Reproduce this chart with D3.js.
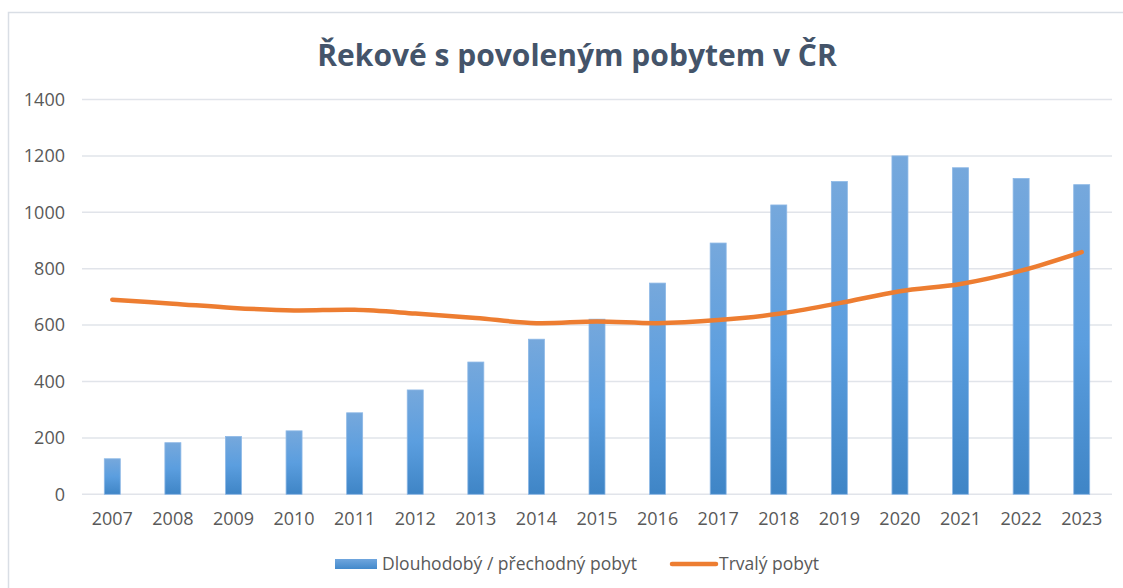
<!DOCTYPE html>
<html><head><meta charset="utf-8">
<script src="https://cdn.jsdelivr.net/npm/d3@7"></script>
<style>body{margin:0;background:#fff;} svg{display:block;font-family:"Open Sans",sans-serif;}</style>
</head><body>
<svg id="c" width="1123" height="588"></svg>
<script>
const years = ["2007","2008","2009","2010","2011","2012","2013","2014","2015","2016","2017","2018","2019","2020","2021","2022","2023"];
const longTerm = [126,183,205,225,289,370,469,550,621,749,891,1026,1109,1200,1158,1120,1098];
const permanent = [690,676,661,652,654,641,625,607,613,607,618,640,678,720,746,793,859];
const yTicks = [0,200,400,600,800,1000,1200,1400];
const seriesNames = ["Dlouhodobý / přechodný pobyt","Trvalý pobyt"];
const title = "Řekové s povoleným pobytem v ČR";

const svg = d3.select("#c");
const m = {left:82, right:1112, top:99.5, bottom:494.3};

svg.append("rect").attr("x",8.5).attr("y",12.5).attr("width",1300).attr("height",700)
  .attr("fill","#fff").attr("stroke","#D9DEE5").attr("stroke-width",1.5);

const defs = svg.append("defs");
const g = defs.append("linearGradient").attr("id","bg").attr("x1",0).attr("y1",0).attr("x2",0).attr("y2",1);
g.append("stop").attr("offset","0%").attr("stop-color","#76A8DC");
g.append("stop").attr("offset","50%").attr("stop-color","#5B9EDF");
g.append("stop").attr("offset","100%").attr("stop-color","#3F85C6");
const gl = defs.append("linearGradient").attr("id","lg").attr("x1",0).attr("y1",0).attr("x2",0).attr("y2",1);
gl.append("stop").attr("offset","0%").attr("stop-color","#6FA6DE");
gl.append("stop").attr("offset","100%").attr("stop-color","#4289CB");

const x = d3.scaleBand().domain(years).range([m.left,m.right]).paddingInner(0.736).paddingOuter(0.368);
const xc = d3.scaleBand().domain(years).range([m.left,m.right]);
const y = d3.scaleLinear().domain([0,1400]).range([m.bottom,m.top]);

// gridlines
svg.append("g").selectAll("line").data(yTicks).join("line")
  .attr("x1",m.left).attr("x2",m.right).attr("y1",d=>y(d)).attr("y2",d=>y(d))
  .attr("stroke","#E1E4EA").attr("stroke-width",1.5);

// y axis labels
const ya = svg.append("g").attr("transform",`translate(${m.left},0)`)
  .call(d3.axisLeft(y).tickValues(yTicks).tickSize(0).tickPadding(17).tickFormat(d3.format("d")));
ya.select(".domain").remove();
ya.selectAll("text").attr("fill","#595959").style("font-size","18px").style("font-family","Open Sans");

// x axis labels
const xa = svg.append("g").attr("transform",`translate(0,${m.bottom})`)
  .call(d3.axisBottom(xc).tickSize(0).tickPadding(18));
xa.select(".domain").remove();
xa.selectAll("text").attr("fill","#595959").style("font-size","18px").style("font-family","Open Sans");

// bars
svg.append("g").selectAll("rect").data(years).join("rect")
  .attr("x",(d)=>x(d)).attr("width",x.bandwidth())
  .attr("y",(d,i)=>y(longTerm[i])).attr("height",(d,i)=>y(0)-y(longTerm[i]))
  .attr("fill","url(#bg)").attr("stroke","#8DB8E6").attr("stroke-width",0.8);

// line
const line = d3.line().x((d,i)=>xc(years[i])+xc.bandwidth()/2).y(d=>y(d)).curve(d3.curveCatmullRom.alpha(0.5));
svg.append("path").datum(permanent).attr("d",line).attr("fill","none")
  .attr("stroke","#ED7D31").attr("stroke-width",4.5).attr("stroke-linecap","round").attr("stroke-linejoin","round");

// title
svg.append("text").attr("x",577).attr("y",66).attr("text-anchor","middle")
  .attr("fill","#44546A").style("font-size","30px").style("font-weight","bold").text(title);

// legend
const lg = svg.append("g");
lg.append("rect").attr("x",335).attr("y",559).attr("width",42).attr("height",10).attr("fill","url(#lg)");
lg.append("text").attr("x",382).attr("y",570).attr("fill","#595959").style("font-size","17.5px").text(seriesNames[0]);
lg.append("line").attr("x1",672).attr("x2",716).attr("y1",564).attr("y2",564)
  .attr("stroke","#ED7D31").attr("stroke-width",4.5).attr("stroke-linecap","round");
lg.append("text").attr("x",719).attr("y",570).attr("fill","#595959").style("font-size","17.5px").text(seriesNames[1]);
</script>
</body></html>
